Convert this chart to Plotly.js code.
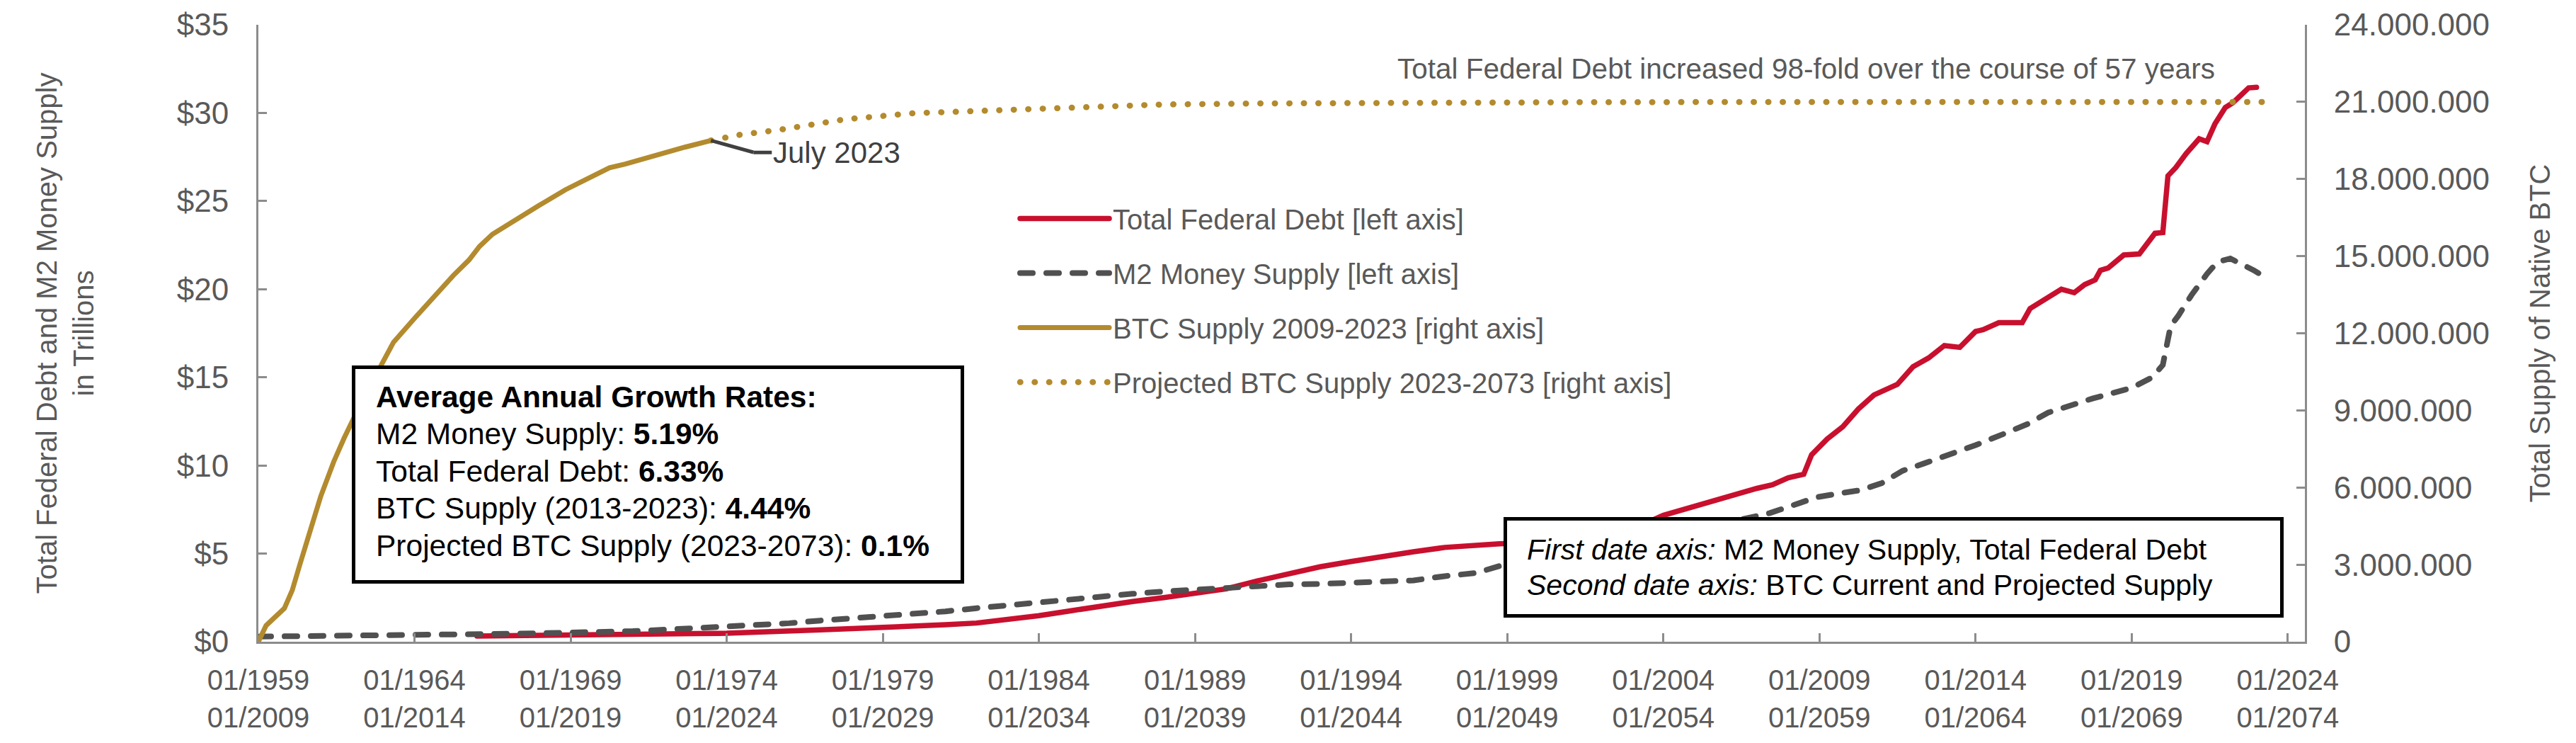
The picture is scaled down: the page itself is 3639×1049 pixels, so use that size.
<!DOCTYPE html>
<html>
<head>
<meta charset="utf-8">
<script src="https://cdn.plot.ly/plotly-3.0.1.min.js"></script>
<style>
  html, body { margin: 0; padding: 0; background: #ffffff; }
  #chart { width: 3639px; height: 1049px; }
  .js-line { stroke-linecap: round; }
</style>
</head>
<body>
<div id="chart"></div>
<script>
// ---- Data ----
// Total Federal Debt, trillions USD (first date axis)
const debtDates = ['1966-01-01','1967-01-01','1968-01-01','1969-01-01','1970-01-01','1971-01-01','1972-01-01','1973-01-01','1974-01-01','1975-01-01','1976-01-01','1977-01-01','1978-01-01','1979-01-01','1980-01-01','1981-01-01','1982-01-01','1983-01-01','1984-01-01','1985-01-01','1986-01-01','1987-01-01','1988-01-01','1989-01-01','1990-01-01','1991-01-01','1992-01-01','1993-01-01','1994-01-01','1995-01-01','1996-01-01','1997-01-01','1998-01-01','1998-10-01','1999-06-01','2000-06-01','2001-06-01','2002-06-01','2003-06-01','2004-01-01','2005-01-01','2006-01-01','2007-01-01','2007-07-01','2008-01-01','2008-07-01','2008-10-01','2009-04-01','2009-10-01','2010-04-01','2010-10-01','2011-04-01','2011-07-01','2012-01-01','2012-07-01','2013-01-01','2013-07-01','2014-01-01','2014-04-01','2014-10-01','2015-07-01','2015-10-01','2016-06-01','2016-10-01','2017-03-01','2017-07-01','2017-11-01','2018-01-01','2018-04-01','2018-10-01','2019-04-01','2019-08-01','2019-10-01','2020-01-01','2020-03-01','2020-06-01','2020-10-01','2021-03-01','2021-06-01','2021-09-01','2022-01-01','2022-04-01','2022-10-01','2023-01-01'];
const debtValues = [0.32,0.33,0.35,0.36,0.38,0.41,0.44,0.46,0.48,0.52,0.60,0.67,0.74,0.80,0.87,0.96,1.06,1.25,1.48,1.75,2.05,2.28,2.50,2.75,3.00,3.45,3.85,4.25,4.55,4.85,5.10,5.35,5.50,5.56,5.60,5.65,5.75,6.15,6.70,7.17,7.70,8.20,8.70,8.90,9.30,9.50,10.60,11.50,12.20,13.20,14.00,14.40,14.60,15.60,16.10,16.80,16.70,17.60,17.70,18.10,18.10,18.90,19.60,20.00,19.80,20.26,20.53,21.07,21.20,21.94,22.00,22.81,23.17,23.21,26.43,26.90,27.70,28.53,28.37,29.37,30.31,30.58,31.42,31.45];

// M2 Money Supply, trillions USD (first date axis)
const m2Dates = ['1959-01-01','1960-01-01','1961-01-01','1962-01-01','1963-01-01','1964-01-01','1965-01-01','1966-01-01','1967-01-01','1968-01-01','1969-01-01','1970-01-01','1971-01-01','1972-01-01','1973-01-01','1974-01-01','1975-01-01','1976-01-01','1977-01-01','1978-01-01','1979-01-01','1980-01-01','1981-01-01','1982-01-01','1983-01-01','1984-01-01','1985-01-01','1986-01-01','1987-01-01','1988-01-01','1989-01-01','1990-01-01','1991-01-01','1992-01-01','1993-01-01','1994-01-01','1995-01-01','1996-01-01','1997-01-01','1998-01-01','1998-10-01','1999-06-01','2000-06-01','2001-06-01','2002-06-01','2003-06-01','2004-06-01','2005-06-01','2006-06-01','2007-06-01','2008-01-01','2008-12-01','2009-08-01','2010-05-01','2011-01-01','2011-09-01','2012-05-01','2013-03-01','2014-01-01','2014-12-01','2015-09-01','2016-05-01','2017-01-01','2017-10-01','2019-01-01','2019-09-01','2020-01-01','2020-04-01','2020-07-01','2020-12-01','2021-06-01','2021-10-01','2022-03-01','2022-07-01','2022-12-01','2023-03-01'];
const m2Values = [0.29,0.30,0.31,0.33,0.36,0.38,0.41,0.43,0.45,0.48,0.51,0.55,0.60,0.68,0.76,0.83,0.92,1.05,1.20,1.32,1.44,1.57,1.72,1.90,2.08,2.20,2.36,2.55,2.72,2.85,2.95,3.12,3.20,3.25,3.28,3.32,3.37,3.48,3.72,3.90,4.29,4.50,4.80,5.20,5.60,5.90,6.20,6.50,6.90,7.30,7.65,8.20,8.40,8.60,9.00,9.70,10.10,10.60,11.15,11.80,12.35,13.00,13.40,13.80,14.40,15.00,15.70,17.90,18.50,19.66,20.87,21.54,21.74,21.47,21.07,20.80];

// BTC supply 2009-2023, coins (second date axis)
const btcDates = ['2009-01-01','2009-04-01','2009-11-01','2010-02-01','2010-05-01','2010-10-01','2011-01-01','2011-06-01','2011-10-01','2012-05-01','2012-12-01','2013-05-01','2014-01-01','2014-09-01','2015-04-01','2015-10-01','2016-02-01','2016-07-01','2017-04-01','2018-01-01','2018-11-01','2019-08-01','2020-04-01','2020-10-01','2021-09-01','2022-09-01','2023-07-01'];
const btcValues = [0,630000,1300000,2000000,3000000,4600000,5660000,7000000,7920000,9390000,10720000,11650000,12580000,13500000,14250000,14850000,15380000,15850000,16440000,16980000,17580000,18040000,18440000,18580000,18910000,19240000,19500000];

// Projected BTC supply 2023-2073, coins (second date axis)
const projDates = ['2023-07-01','2024-06-01','2025-09-01','2027-11-01','2030-01-01','2032-11-01','2035-03-01','2038-01-01','2041-01-01','2044-01-01','2047-01-01','2052-01-01','2060-01-01','2073-06-01'];
const projValues = [19500000,19720000,19910000,20330000,20560000,20690000,20810000,20900000,20940000,20960000,20980000,20990000,21000000,21000000];

// Labels
const seriesNames = ['Total Federal Debt [left axis]','M2 Money Supply [left axis]','BTC Supply 2009-2023 [right axis]','Projected BTC Supply 2023-2073 [right axis]'];
const growthTitle = 'Average Annual Growth Rates:';
const growthLabels = ['M2 Money Supply:','Total Federal Debt:','BTC Supply (2013-2023):','Projected BTC Supply (2023-2073):'];
const growthRates = ['5.19%','6.33%','4.44%','0.1%'];
const axisNoteLabels = ['First date axis:','Second date axis:'];
const axisNoteTexts = ['M2 Money Supply, Total Federal Debt','BTC Current and Projected Supply'];
const headline = 'Total Federal Debt increased 98-fold over the course of 57 years';
const endLabel = 'July 2023';

// ---- Styling / geometry ----
const RED = '#C8102E', GRAY = '#505050', GOLD = '#B38B2E', TXT = '#595959', AX = '#8C8C8C', CONN = '#404040';
const FONT = 'Liberation Sans, Arial, sans-serif';
const W = 3639, H = 1049;
const M = {l: 365, r: 383, t: 35, b: 143};
const PW = W - M.l - M.r, PH = H - M.t - M.b;
const px2x = p => (p - M.l) / PW;          // page pixel -> paper x
const px2y = p => (H - M.b - p) / PH;      // page pixel -> paper y

const traces = [
  {x: debtDates, y: debtValues, name: seriesNames[0], legendgroup: 'a', type: 'scatter', mode: 'lines',
   line: {color: RED, width: 7.5}, xaxis: 'x', yaxis: 'y'},
  {x: m2Dates, y: m2Values, name: seriesNames[1], legendgroup: 'b', type: 'scatter', mode: 'lines',
   line: {color: GRAY, width: 8, dash: '18px,19px'}, xaxis: 'x', yaxis: 'y'},
  {x: btcDates, y: btcValues, name: seriesNames[2], legendgroup: 'c', type: 'scatter', mode: 'lines',
   line: {color: GOLD, width: 7}, xaxis: 'x2', yaxis: 'y2'},
  {x: projDates, y: projValues, name: seriesNames[3], legendgroup: 'd', type: 'scatter', mode: 'lines',
   line: {color: GOLD, width: 8.5, dash: '0.5px,20px'}, xaxis: 'x2', yaxis: 'y2'}
];

const annotations = [];
// Growth-rate box (frame) and its lines
annotations.push({text: ' ', xref: 'paper', yref: 'paper', x: px2x(497), y: px2y(516),
  xanchor: 'left', yanchor: 'top', showarrow: false, width: 855, height: 298,
  bgcolor: '#ffffff', bordercolor: '#000000', borderwidth: 5, borderpad: 0});
const growthLines = ['<b>' + growthTitle + '</b>'].concat(
  growthLabels.map((l, i) => l + ' <b>' + growthRates[i] + '</b>'));
growthLines.forEach((t, i) => annotations.push({
  text: t, xref: 'paper', yref: 'paper', x: px2x(530), y: px2y(560 + i * 52.5),
  xanchor: 'left', yanchor: 'middle', align: 'left', showarrow: false, borderpad: 0,
  font: {family: FONT, size: 42.5, color: '#000000'}}));
// Date-axis note box and its lines
annotations.push({text: ' ', xref: 'paper', yref: 'paper', x: px2x(2124), y: px2y(730),
  xanchor: 'left', yanchor: 'top', showarrow: false, width: 1092, height: 132,
  bgcolor: '#ffffff', bordercolor: '#000000', borderwidth: 5, borderpad: 0});
axisNoteLabels.forEach((l, i) => annotations.push({
  text: '<i>' + l + '</i> ' + axisNoteTexts[i], xref: 'paper', yref: 'paper',
  x: px2x(2156), y: px2y(776 + i * 50),
  xanchor: 'left', yanchor: 'middle', align: 'left', showarrow: false, borderpad: 0,
  font: {family: FONT, size: 41, color: '#000000'}}));
// Headline
annotations.push({text: headline, xref: 'paper', yref: 'paper', x: px2x(3131), y: px2y(97),
  xanchor: 'right', yanchor: 'middle', showarrow: false,
  font: {family: FONT, size: 40.5, color: TXT}});
// End-of-history connector (elbow: diagonal leg, then horizontal leg with label)
const lastX = btcDates[btcDates.length - 1], lastY = btcValues[btcValues.length - 1];
annotations.push({text: ' ', xref: 'x2', yref: 'y2', x: lastX, y: lastY,
  showarrow: true, arrowhead: 0, arrowwidth: 5, arrowcolor: CONN,
  ax: 61, ay: 17, standoff: 0, startstandoff: 0, borderpad: 0,
  font: {family: FONT, size: 2, color: CONN}});
annotations.push({text: endLabel, xref: 'x2', yref: 'y2', x: lastX, y: lastY,
  xshift: 60, yshift: -17,
  xanchor: 'left', yanchor: 'middle', showarrow: true, arrowhead: 0, arrowwidth: 5, arrowcolor: CONN,
  ax: 26, ay: 0, standoff: 0, startstandoff: 0,
  font: {family: FONT, size: 42, color: CONN}});

const layout = {
  width: W, height: H,
  margin: {l: M.l, r: M.r, t: M.t, b: M.b, pad: 0},
  paper_bgcolor: '#ffffff', plot_bgcolor: '#ffffff',
  separators: ',.',
  font: {family: FONT, size: 40, color: TXT},
  showlegend: true,
  legend: {
    x: px2x(1436), y: px2y(276), xanchor: 'left', yanchor: 'top',
    bgcolor: 'rgba(0,0,0,0)', borderwidth: 0,
    font: {family: FONT, size: 40, color: TXT},
    traceorder: 'grouped', tracegroupgap: 22, itemwidth: 126
  },
  xaxis: {
    type: 'date', range: ['1959-01-01', '2024-07-20'],
    tick0: '1959-01-01', dtick: 'M60', tickformat: '%m/%Y',
    ticks: 'inside', ticklen: 12, tickwidth: 3, tickcolor: AX,
    showline: true, linecolor: AX, linewidth: 3, showgrid: false, zeroline: false,
    tickfont: {family: FONT, size: 40, color: TXT}, ticklabelstandoff: 17,
    fixedrange: true
  },
  xaxis2: {
    type: 'date', overlaying: 'x', side: 'bottom', anchor: 'y',
    range: ['2009-01-01', '2074-07-20'],
    tick0: '2009-01-01', dtick: 'M60', tickformat: '%m/%Y',
    ticks: '', showline: false, showgrid: false, zeroline: false,
    tickfont: {family: FONT, size: 40, color: TXT}, ticklabelstandoff: 80,
    fixedrange: true
  },
  yaxis: {
    range: [0, 35], dtick: 5, tick0: 0, tickprefix: '$',
    ticks: 'inside', ticklen: 12, tickwidth: 3, tickcolor: AX,
    showline: true, linecolor: AX, linewidth: 3, showgrid: false, zeroline: false,
    tickfont: {family: FONT, size: 44, color: TXT}, ticklabelstandoff: 30,
    title: {text: 'Total Federal Debt and M2 Money Supply<br>in Trillions', font: {family: FONT, size: 40, color: TXT}, standoff: 105},
    fixedrange: true
  },
  yaxis2: {
    overlaying: 'y', side: 'right', anchor: 'x',
    range: [0, 24000000], dtick: 3000000, tick0: 0, tickformat: ',d',
    ticks: 'inside', ticklen: 12, tickwidth: 3, tickcolor: AX,
    showline: true, linecolor: AX, linewidth: 3, showgrid: false, zeroline: false,
    tickfont: {family: FONT, size: 44, color: TXT}, ticklabelstandoff: 29,
    title: {text: 'Total Supply of Native BTC', font: {family: FONT, size: 40, color: TXT}, standoff: 58},
    fixedrange: true
  },
  annotations: annotations
};

Plotly.newPlot('chart', traces, layout, {staticPlot: true, displayModeBar: false});
</script>
</body>
</html>
